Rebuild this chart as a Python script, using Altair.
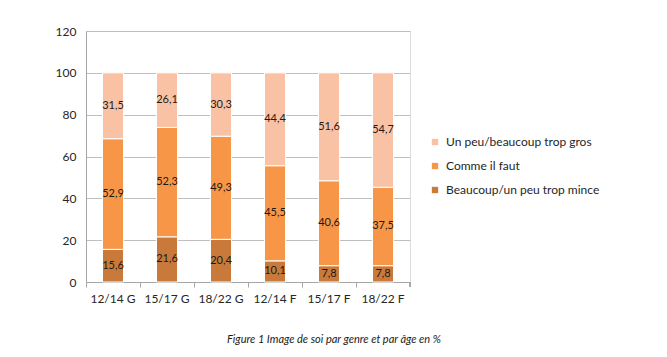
import altair as alt
import pandas as pd

categories = ["12/14 G", "15/17 G", "18/22 G", "12/14 F", "15/17 F", "18/22 F"]
series = ["Beaucoup/un peu trop mince", "Comme il faut", "Un peu/beaucoup trop gros"]
mince = [15.6, 21.6, 20.4, 10.1, 7.8, 7.8]
faut = [52.9, 52.3, 49.3, 45.5, 40.6, 37.5]
gros = [31.5, 26.1, 30.3, 44.4, 51.6, 54.7]
colors = ["#C97A3B", "#F79646", "#FAC2A4"]

rows = []
for i, c in enumerate(categories):
    for k, (s, vals) in enumerate(zip(series, [mince, faut, gros])):
        v = vals[i]
        rows.append({"cat": c, "serie": s, "ord": k, "value": v,
                     "label": f"{v:.1f}".replace(".", ",")})
df = pd.DataFrame(rows)

FONT = "Lato"

base = alt.Chart(df).transform_stack(
    stack="value", groupby=["cat"], sort=[alt.SortField("ord")], as_=["y0", "y1"]
).transform_calculate(mid="(datum.y0 + datum.y1) / 2")

x_enc = alt.X("cat:N", sort=categories, title=None,
              scale=alt.Scale(paddingInner=0, paddingOuter=0),
              axis=alt.Axis(labelAngle=0, labelFontSize=12, labelColor="#262626",
                            labelFont=FONT, domainColor="#A6A6A6", tickColor="#A6A6A6",
                            tickSize=5, bandPosition=0, labelPadding=6, grid=False))

bars = base.mark_bar(size=21, stroke="white", strokeWidth=1).encode(
    x=x_enc,
    y=alt.Y("y0:Q", title=None,
            scale=alt.Scale(domain=[0, 120]),
            axis=alt.Axis(values=[0, 20, 40, 60, 80, 100, 120], labelFontSize=12,
                          labelColor="#262626", labelFont=FONT, ticks=False,
                          domainColor="#A6A6A6", gridColor="#BFBFBF",
                          labelPadding=10)),
    y2="y1:Q",
    color=alt.Color("serie:N", sort=series,
                    scale=alt.Scale(domain=series, range=colors),
                    legend=alt.Legend(title=None, orient="none", legendX=343, legendY=105,
                                      symbolType="square", symbolSize=40,
                                      symbolStrokeWidth=0,
                                      labelFontSize=12, labelFont=FONT,
                                      labelColor="#262626", rowPadding=12,
                                      labelOffset=5,
                                      values=list(reversed(series)))),
)

texts = base.mark_text(fontSize=11, font=FONT, color="#1a1a1a").encode(
    x=alt.X("cat:N", sort=categories),
    y="mid:Q",
    text="label:N",
)

end_tick = alt.Chart(df).mark_rule(color="#A6A6A6").encode(
    x=alt.value(324), y=alt.value(251), y2=alt.value(256)
)

chart = alt.layer(bars, texts, end_tick).properties(
    width=324, height=251,
    autosize=alt.AutoSizeParams(type="none"),
    padding={"left": 86, "top": 31, "right": 257, "bottom": 75},
    title=alt.TitleParams("Figure 1 Image de soi par genre et par âge en %",
                          orient="bottom", anchor="middle", dx=86, offset=30,
                          fontSize=11, font=FONT, fontStyle="italic",
                          fontWeight="normal", color="#1a1a1a"),
).configure_view(stroke=None).configure(background="white")

chart.save("out.html", embed_options={"renderer": "svg", "actions": False})
